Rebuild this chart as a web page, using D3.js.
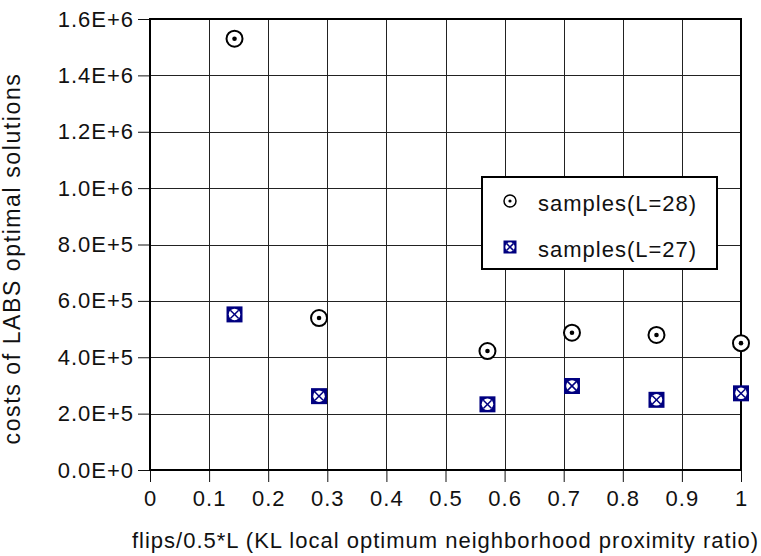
<!DOCTYPE html>
<html>
<head>
<meta charset="utf-8">
<script src="https://cdn.jsdelivr.net/npm/d3@7"></script>
<style>
  body { margin: 0; background: #fff; }
  text { font-family: "Liberation Sans", Arial, sans-serif; letter-spacing: 1px; fill: #111; }
</style>
</head>
<body>
<div id="chart-container"></div>
<script>
// Data
const ratios = [0.143, 0.286, 0.571, 0.714, 0.857, 1.0];
const costsL28 = [1530000, 539000, 422000, 487000, 479000, 450000];
const costsL27 = [552000, 262000, 233000, 298000, 249000, 272000];
const xTicks = [0, 0.1, 0.2, 0.3, 0.4, 0.5, 0.6, 0.7, 0.8, 0.9, 1];
const yTicks = [0, 200000, 400000, 600000, 800000, 1000000, 1200000, 1400000, 1600000];
const seriesNames = ["samples(L=28)", "samples(L=27)"];

const margin = { top: 19, right: 20, bottom: 86, left: 150 };
const width = 761 - margin.left - margin.right;
const height = 556 - margin.top - margin.bottom;
const navy = "#000080";

const x = d3.scaleLinear().domain([0, 1]).range([0, width]);
const y = d3.scaleLinear().domain([0, 1600000]).range([height, 0]);

const svg = d3.select("#chart-container")
  .append("svg")
  .attr("width", 761)
  .attr("height", 556)
  .append("g")
  .attr("transform", `translate(${margin.left},${margin.top})`);

// gridlines
svg.selectAll(".xGrid")
  .data(xTicks)
  .join("line")
  .attr("x1", d => Math.round(x(d)) + 0.5)
  .attr("x2", d => Math.round(x(d)) + 0.5)
  .attr("y1", 0)
  .attr("y2", height)
  .attr("stroke", "#222")
  .attr("stroke-width", 1);

svg.selectAll(".yGrid")
  .data(yTicks)
  .join("line")
  .attr("x1", 0)
  .attr("x2", width)
  .attr("y1", d => Math.round(y(d)) + 0.5)
  .attr("y2", d => Math.round(y(d)) + 0.5)
  .attr("stroke", "#222")
  .attr("stroke-width", 1);

// x axis
svg.append("g")
  .attr("transform", `translate(0,${height})`)
  .call(d3.axisBottom(x)
    .tickValues(xTicks)
    .tickFormat(d3.format("~g"))
    .tickSizeInner(12)
    .tickSizeOuter(0)
    .tickPadding(8))
  .call(g => g.select(".domain").remove())
  .call(g => g.selectAll(".tick line").attr("stroke", "#111"))
  .selectAll(".tick text")
  .style("font-size", "22px")
  .attr("fill", "#111");

// y axis
svg.append("g")
  .call(d3.axisLeft(y)
    .tickValues(yTicks)
    .tickFormat(d => d3.format(".1e")(d).toUpperCase())
    .tickSizeInner(12)
    .tickSizeOuter(0)
    .tickPadding(4))
  .call(g => g.select(".domain").remove())
  .call(g => g.selectAll(".tick line").attr("stroke", "#111"))
  .selectAll(".tick text")
  .style("font-size", "22px")
  .attr("fill", "#111");

// plot frame
svg.append("rect")
  .attr("x", 0)
  .attr("y", 0)
  .attr("width", width)
  .attr("height", height)
  .attr("fill", "none")
  .attr("stroke", "#000")
  .attr("stroke-width", 2);

// axis titles
svg.append("text")
  .attr("x", width / 2)
  .attr("y", height + 78)
  .attr("text-anchor", "middle")
  .style("font-size", "22px")
  .text("flips/0.5*L (KL local optimum neighborhood proximity ratio)");

svg.append("text")
  .attr("transform", `translate(${20 - margin.left},${height / 2 + 14}) rotate(-90)`)
  .attr("text-anchor", "middle")
  .style("font-size", "23px")
  .style("letter-spacing", "1.6px")
  .text("costs of LABS optimal solutions");

// marker drawers
function dotCircle(g, r) {
  g.append("circle").attr("r", r).attr("fill", "#fff").attr("stroke", "#000").attr("stroke-width", r > 7 ? 2 : 1.5);
  g.append("circle").attr("r", r > 7 ? 2.3 : 1.6).attr("fill", "#000");
}
function crossSquare(g, s) {
  const h = s / 2, cr = s * 0.36, d = cr * 0.72;
  g.append("rect").attr("x", -h).attr("y", -h).attr("width", s).attr("height", s).attr("fill", navy);
  g.append("circle").attr("r", cr).attr("fill", "#fff");
  g.append("line").attr("x1", -d).attr("y1", -d).attr("x2", d).attr("y2", d).attr("stroke", navy).attr("stroke-width", 1.5);
  g.append("line").attr("x1", -d).attr("y1", d).attr("x2", d).attr("y2", -d).attr("stroke", navy).attr("stroke-width", 1.5);
}

// L=27 points
svg.selectAll(".p27")
  .data(ratios.map((r, i) => ({ r, v: costsL27[i] })))
  .join("g")
  .attr("transform", d => `translate(${x(d.r)},${y(d.v)})`)
  .each(function() { crossSquare(d3.select(this), 16); });

// L=28 points
svg.selectAll(".p28")
  .data(ratios.map((r, i) => ({ r, v: costsL28[i] })))
  .join("g")
  .attr("transform", d => `translate(${x(d.r)},${y(d.v)})`)
  .each(function() { dotCircle(d3.select(this), 8); });

// legend
const legend = svg.append("g")
  .attr("transform", `translate(${482 - margin.left},${177 - margin.top})`);

legend.append("rect")
  .attr("width", 235)
  .attr("height", 92)
  .attr("fill", "#fff")
  .attr("stroke", "#000")
  .attr("stroke-width", 2);

seriesNames.forEach((name, i) => {
  const row = legend.append("g").attr("transform", `translate(28,${24 + i * 46})`);
  const m = row.append("g");
  if (i === 0) dotCircle(m, 6);
  else crossSquare(m, 13);
  row.append("text")
    .attr("x", 28)
    .attr("y", 10)
    .style("font-size", "22px")
    .text(name);
});
</script>
</body>
</html>
